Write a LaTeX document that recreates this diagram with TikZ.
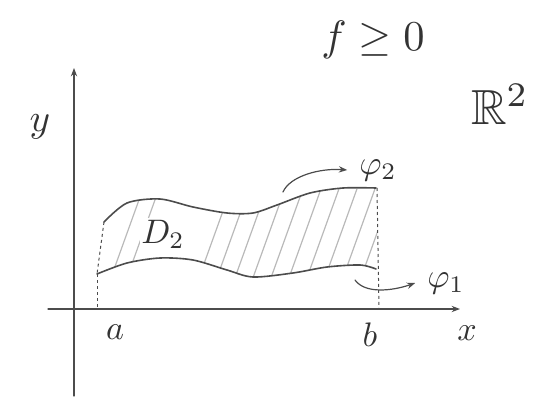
\documentclass[tikz,border=0pt]{standalone}
\usepackage{amsmath,amssymb}
\usepackage{tikz}
\usetikzlibrary{arrows.meta}

\begin{document}
\begin{tikzpicture}[x=1pt,y=-1pt,>=Stealth,
  pencil/.style={gray!60!black,line width=1.6pt,line cap=round},
  hatch/.style={gray!55,line width=1.2pt,line cap=round},
  guide/.style={gray!60!black,line width=1pt,dashed},
  hand/.style={gray!40!black,scale=3.4}]

  \useasboundingbox (0,0) rectangle (547,402);

  \coordinate (xs) at (48,309);
  \coordinate (xe) at (460,309);
  \coordinate (ys) at (74,396);
  \coordinate (ye) at (74,68);
  \draw[pencil,line width=1.2pt,->] (xs)--(xe);
  \draw[pencil,line width=1.2pt,->] (ys)--(ye);

  \begin{scope}
    \clip plot[smooth] coordinates {(104,222) (127,203) (160,199) (193,207) (227,213) (253,213) (277,205) (310,193) (343,188) (376,188)}
      -- (378,268) -- plot[smooth] coordinates {(375,268) (360,265) (327,267) (293,273) (253,277) (227,270) (193,260) (160,258) (127,263) (97,274)} -- cycle;
    \foreach \x in {108,124,196,214,232,250,268,286,304,322,340,358}
      \draw[hatch] (\x,286)--(\x+36,186);
  \end{scope}

  \draw[pencil] plot[smooth] coordinates {(104,222) (127,203) (160,199) (193,207) (227,213) (253,213) (277,205) (310,193) (343,188) (376,188)};
  \draw[pencil] plot[smooth] coordinates {(97,274) (127,263) (160,258) (193,260) (227,270) (253,277) (293,273) (327,267) (360,265) (376,269)};

  \draw[guide] (104,222)--(97,274);
  \draw[guide] (97,274)--(97,309);
  \draw[guide] (377,188)--(379,309);

  \node[hand,fill=white,inner sep=0.5pt] (D) at (163,234) {$D_2$};

  \coordinate (p2s) at (283,192);
  \coordinate (p1s) at (355,280);
  \node[hand] (phi2) at (378,170) {$\varphi_2$};
  \node[hand] (phi1) at (446,283) {$\varphi_1$};
  \draw[pencil,line width=1.2pt,->] (p2s) .. controls (290,176) and (320,168) .. (phi2.west);
  \draw[pencil,line width=1.2pt,->] (p1s) .. controls (365,294) and (392,291) .. (phi1.west);

  \node[hand,scale=1.15] (ylab) at (40,127) {$y$};
  \node[hand] (xlab) at (467,333) {$x$};
  \node[hand] (alab) at (115,332) {$a$};
  \node[hand] (blab) at (370,335) {$b$};

  \node[hand,scale=1.25] (cond) at (373,40) {$f\geq 0$};
  \node[hand,scale=1.45] (space) at (500,104) {$\mathbb{R}^2$};
\end{tikzpicture}
\end{document}
